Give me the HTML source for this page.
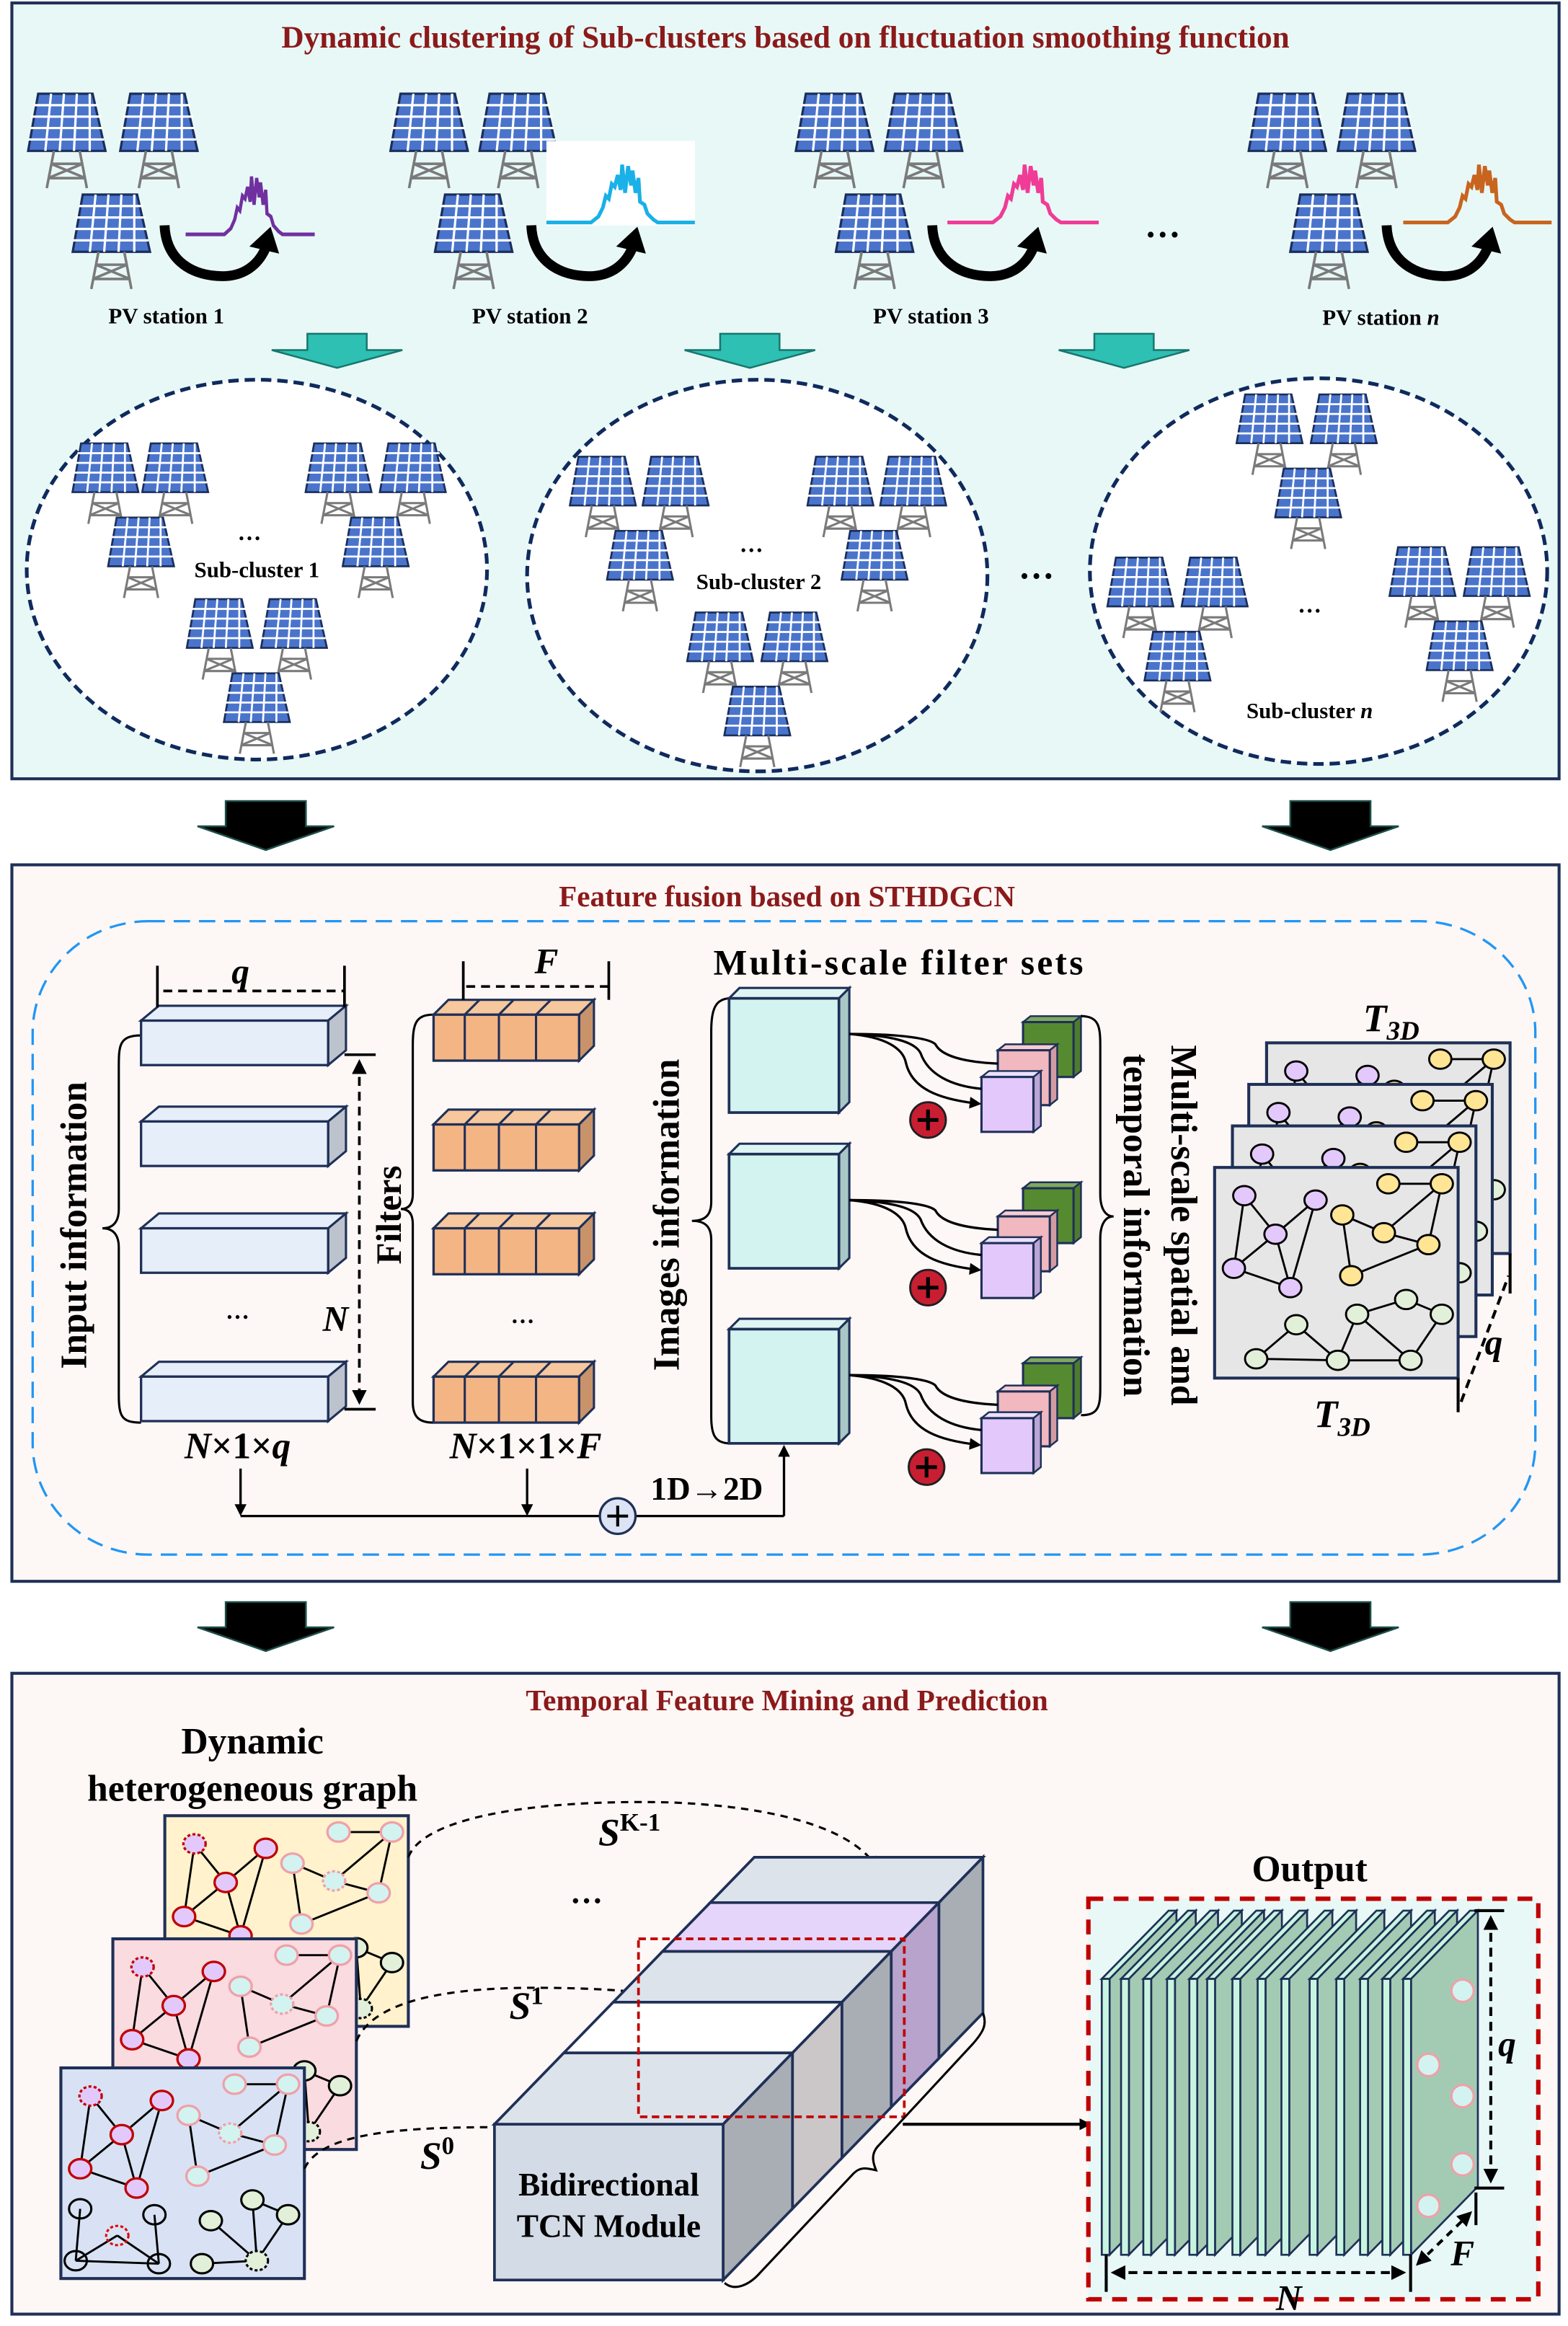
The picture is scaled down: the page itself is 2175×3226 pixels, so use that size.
<!DOCTYPE html>
<html><head><meta charset="utf-8"><style>
html,body{margin:0;padding:0;background:#fff}
svg{display:block}
text{font-family:"Liberation Serif",serif;font-weight:bold;fill:#000}
</style></head><body>
<svg width="2175" height="3226" viewBox="0 0 1056 1568" preserveAspectRatio="none" xmlns="http://www.w3.org/2000/svg" xmlns:xlink="http://www.w3.org/1999/xlink">
<defs>
<symbol id="pv" viewBox="0 0 56 68">
<polygon points="8,1 46,1 55,41 1,41" fill="#4a74cc" stroke="#1a2e5a" stroke-width="1.6"/>
<g stroke="#fff" stroke-width="1.6">
<line x1="5" y1="9" x2="50" y2="9"/><line x1="3" y1="17" x2="52" y2="17"/><line x1="2" y1="25" x2="53" y2="25"/><line x1="1" y1="33" x2="54" y2="33"/>
<line x1="17" y1="1" x2="13" y2="41"/><line x1="26" y1="1" x2="23" y2="41"/><line x1="35" y1="1" x2="33" y2="41"/><line x1="44" y1="1" x2="44" y2="41"/>
</g>
<g stroke="#7a7a7a" stroke-width="1.8" fill="none">
<line x1="19" y1="41" x2="14" y2="67"/><line x1="37" y1="41" x2="42" y2="67"/>
<line x1="17" y1="50" x2="39" y2="50"/><line x1="15" y1="60" x2="41" y2="60"/>
<line x1="17" y1="50" x2="41" y2="60"/><line x1="39" y1="50" x2="15" y2="60"/>
</g>
</symbol>
<symbol id="wave" viewBox="0 0 100 45" preserveAspectRatio="none">
<path d="M0,42 H30 L35,38 38,32 40,24 42,26 44,16 46,18 48,10 50,20 51,3 53,22 55,4 57,17 58,7 60,22 62,12 63,28 66,30 68,36 72,40 75,42 H100" fill="none" stroke="currentColor" stroke-width="2.5"/>
</symbol>
<symbol id="carr" viewBox="0 0 85 42">
<path d="M4,2 C5,28 25,38 45,38 C60,38 70,30 75,19" stroke="#000" stroke-width="7" fill="none"/>
<polygon points="64,17 79,3 85,22" fill="#000"/>
</symbol>
<marker id="ah" markerWidth="8" markerHeight="8" refX="6" refY="4" orient="auto" markerUnits="userSpaceOnUse"><path d="M0,0 L8,4 L0,8 z" fill="#000"/></marker>
<marker id="ah2" markerWidth="10" markerHeight="10" refX="8" refY="5" orient="auto-start-reverse" markerUnits="userSpaceOnUse"><path d="M0,0 L10,5 L0,10 z" fill="#000"/></marker>
<g id="tg" stroke="#000" stroke-width="1.4">
<g>
<line x1="20" y1="19" x2="41" y2="45"/><line x1="68" y1="22" x2="41" y2="45"/><line x1="20" y1="19" x2="13" y2="68"/><line x1="41" y1="45" x2="13" y2="68"/><line x1="13" y1="68" x2="51" y2="81"/><line x1="68" y1="22" x2="51" y2="81"/><line x1="41" y1="45" x2="51" y2="81"/>
<line x1="117" y1="11" x2="153" y2="11"/><line x1="153" y1="11" x2="114" y2="44"/><line x1="86" y1="32" x2="114" y2="44"/><line x1="86" y1="32" x2="92" y2="73"/><line x1="114" y1="44" x2="144" y2="52"/><line x1="153" y1="11" x2="144" y2="52"/><line x1="92" y1="73" x2="144" y2="52"/>
<line x1="55" y1="106" x2="28" y2="129"/><line x1="55" y1="106" x2="83" y2="130"/><line x1="28" y1="129" x2="83" y2="130"/><line x1="96" y1="99" x2="83" y2="130"/><line x1="96" y1="99" x2="129" y2="89"/><line x1="129" y1="89" x2="153" y2="99"/><line x1="153" y1="99" x2="132" y2="130"/><line x1="96" y1="99" x2="132" y2="130"/><line x1="83" y1="130" x2="132" y2="130"/>
</g>
<g fill="#e3c8fb"><ellipse cx="20" cy="19" rx="7.5" ry="6.5"/><ellipse cx="68" cy="22" rx="7.5" ry="6.5"/><ellipse cx="41" cy="45" rx="7.5" ry="6.5"/><ellipse cx="13" cy="68" rx="7.5" ry="6.5"/><ellipse cx="51" cy="81" rx="7.5" ry="6.5"/></g>
<g fill="#ffe594"><ellipse cx="117" cy="11" rx="7.5" ry="6.5"/><ellipse cx="153" cy="11" rx="7.5" ry="6.5"/><ellipse cx="86" cy="32" rx="7.5" ry="6.5"/><ellipse cx="114" cy="44" rx="7.5" ry="6.5"/><ellipse cx="144" cy="52" rx="7.5" ry="6.5"/><ellipse cx="92" cy="73" rx="7.5" ry="6.5"/></g>
<g fill="#e2efd9"><ellipse cx="129" cy="89" rx="7.5" ry="6.5"/><ellipse cx="96" cy="99" rx="7.5" ry="6.5"/><ellipse cx="153" cy="99" rx="7.5" ry="6.5"/><ellipse cx="55" cy="106" rx="7.5" ry="6.5"/><ellipse cx="28" cy="129" rx="7.5" ry="6.5"/><ellipse cx="83" cy="130" rx="7.5" ry="6.5"/><ellipse cx="132" cy="130" rx="7.5" ry="6.5"/></g>
</g>
<g id="hg">
<g stroke="#000" stroke-width="1.4">
<line x1="20" y1="19" x2="41" y2="45"/><line x1="68" y1="22" x2="41" y2="45"/><line x1="20" y1="19" x2="13" y2="68"/><line x1="41" y1="45" x2="13" y2="68"/><line x1="13" y1="68" x2="51" y2="81"/><line x1="68" y1="22" x2="51" y2="81"/><line x1="41" y1="45" x2="51" y2="81"/>
<line x1="117" y1="11" x2="153" y2="11"/><line x1="153" y1="11" x2="114" y2="44"/><line x1="86" y1="32" x2="114" y2="44"/><line x1="86" y1="32" x2="92" y2="73"/><line x1="114" y1="44" x2="144" y2="52"/><line x1="153" y1="11" x2="144" y2="52"/><line x1="92" y1="73" x2="144" y2="52"/>
<line x1="13" y1="95" x2="10" y2="130"/><line x1="10" y1="130" x2="38" y2="113"/><line x1="38" y1="113" x2="66" y2="132"/><line x1="63" y1="99" x2="66" y2="132"/><line x1="10" y1="130" x2="66" y2="132"/>
<line x1="129" y1="89" x2="153" y2="99"/><line x1="129" y1="89" x2="132" y2="130"/><line x1="153" y1="99" x2="132" y2="130"/><line x1="101" y1="103" x2="132" y2="130"/><line x1="95" y1="132" x2="132" y2="130"/>
</g>
<g fill="#e3c8fb" stroke="#c00000" stroke-width="1.6"><ellipse cx="20" cy="19" rx="7.5" ry="6.5" stroke-dasharray="2,1.5"/><ellipse cx="68" cy="22" rx="7.5" ry="6.5"/><ellipse cx="41" cy="45" rx="7.5" ry="6.5"/><ellipse cx="13" cy="68" rx="7.5" ry="6.5"/><ellipse cx="51" cy="81" rx="7.5" ry="6.5"/></g>
<g fill="#d3f3f1" stroke="#f0a0a8" stroke-width="1.6"><ellipse cx="117" cy="11" rx="7.5" ry="6.5"/><ellipse cx="153" cy="11" rx="7.5" ry="6.5"/><ellipse cx="86" cy="32" rx="7.5" ry="6.5"/><ellipse cx="114" cy="44" rx="7.5" ry="6.5" stroke-dasharray="2,1.5"/><ellipse cx="144" cy="52" rx="7.5" ry="6.5"/><ellipse cx="92" cy="73" rx="7.5" ry="6.5"/></g>
<g fill="none" stroke="#000" stroke-width="1.5"><ellipse cx="13" cy="95" rx="7.5" ry="6.5"/><ellipse cx="63" cy="99" rx="7.5" ry="6.5"/><ellipse cx="38" cy="113" rx="7.5" ry="6.5" stroke="#e00000" stroke-dasharray="2,1.5"/><ellipse cx="10" cy="130" rx="7.5" ry="6.5"/><ellipse cx="66" cy="132" rx="7.5" ry="6.5"/></g>
<g fill="#e2efd9" stroke="#000" stroke-width="1.5"><ellipse cx="129" cy="89" rx="7.5" ry="6.5"/><ellipse cx="101" cy="103" rx="7.5" ry="6.5"/><ellipse cx="153" cy="99" rx="7.5" ry="6.5"/><ellipse cx="132" cy="130" rx="7.5" ry="6.5" stroke-dasharray="2,1.5"/><ellipse cx="95" cy="132" rx="7.5" ry="6.5"/></g>
</g>
<g id="cubes">
<polygon points="689,689 694,685 728,685 723,689" fill="#7fa860" stroke="#1f3057" stroke-width="1.2"/><polygon points="723,689 728,685 728,722 723,726" fill="#4e7c2e" stroke="#1f3057" stroke-width="1.2"/><rect x="689" y="689" width="34" height="37" fill="#568a30" stroke="#1f3057" stroke-width="1.5"/>
<polygon points="672,708 677,704 712,704 707,708" fill="#f7cdd2" stroke="#1f3057" stroke-width="1.2"/><polygon points="707,708 712,704 712,741 707,745" fill="#d39ba3" stroke="#1f3057" stroke-width="1.2"/><rect x="672" y="708" width="35" height="37" fill="#f2b8bf" stroke="#1f3057" stroke-width="1.5"/>
<polygon points="661,726 666,722 701,722 696,726" fill="#ece0ff" stroke="#1f3057" stroke-width="1.2"/><polygon points="696,726 701,722 701,759 696,763" fill="#bba6d6" stroke="#1f3057" stroke-width="1.2"/><rect x="661" y="726" width="35" height="37" fill="#e3c8fb" stroke="#1f3057" stroke-width="1.5"/>
<g fill="none" stroke="#000" stroke-width="1.6"><path d="M572,697 C600,697 625,699 630,704 C634,712 650,716 672,717"/><path d="M572,697 C600,698 616,702 620,710 C625,724 640,732 661,734"/><path d="M572,697 C597,699 608,707 610,716 C614,734 632,741 659,744" marker-end="url(#ah)"/></g>
</g>
<g id="cbox"><polygon points="491,673 498,666 572,666 565,673" fill="#dff5f3" stroke="#1f3057" stroke-width="1.5"/><polygon points="565,673 572,666 572,743 565,750" fill="#a9c7c6" stroke="#1f3057" stroke-width="1.5"/><rect x="491" y="673" width="74" height="77" fill="#d3f3f1" stroke="#1f3057" stroke-width="1.8"/></g>
<g id="ibar"><polygon points="95,688 107,678 233,678 221,688" fill="#e6eefa" stroke="#1f3057" stroke-width="1.5"/><polygon points="221,688 233,678 233,708 221,718" fill="#bcc3cd" stroke="#1f3057" stroke-width="1.5"/><rect x="95" y="688" width="126" height="30" fill="#e6eefa" stroke="#1f3057" stroke-width="1.6"/></g>
<g id="obar"><polygon points="292,684 302,674 400,674 390,684" fill="#f7c79d" stroke="#1f3057" stroke-width="1.5"/><polygon points="390,684 400,674 400,705 390,715" fill="#c8936a" stroke="#1f3057" stroke-width="1.5"/><rect x="292" y="684" width="98" height="31" fill="#f4b584" stroke="#1f3057" stroke-width="1.6"/><g stroke="#1f3057" stroke-width="1.5"><line x1="313" y1="684" x2="313" y2="715"/><line x1="336" y1="684" x2="336" y2="715"/><line x1="361" y1="684" x2="361" y2="715"/><line x1="313" y1="684" x2="323" y2="674"/><line x1="336" y1="684" x2="346" y2="674"/><line x1="361" y1="684" x2="371" y2="674"/></g></g>
</defs>

<!-- PANEL 1 -->
<rect x="8" y="2" width="1042" height="523" fill="#e8f8f7" stroke="#1f3057" stroke-width="2"/>
<text x="529" y="32" font-size="21" text-anchor="middle" style="fill:#8b1a1a">Dynamic clustering of Sub-clusters based on fluctuation smoothing function</text>

<use href="#pv" x="18" y="62" width="54" height="66"/><use href="#pv" x="80" y="62" width="54" height="66"/><use href="#pv" x="48" y="130" width="54" height="66"/>
<use href="#wave" x="125" y="116" width="87" height="45" style="color:#7030a0"/><use href="#carr" x="105" y="150" width="85" height="40"/>
<text x="112" y="218" font-size="15" text-anchor="middle">PV station 1</text>

<use href="#pv" x="262" y="62" width="54" height="66"/><use href="#pv" x="322" y="62" width="54" height="66"/><use href="#pv" x="292" y="130" width="54" height="66"/>
<rect x="368" y="95" width="100" height="57" fill="#fff"/>
<use href="#wave" x="368" y="108" width="100" height="45" style="color:#1ab0e8"/><use href="#carr" x="352" y="150" width="85" height="40"/>
<text x="357" y="218" font-size="15" text-anchor="middle">PV station 2</text>

<use href="#pv" x="535" y="62" width="54" height="66"/><use href="#pv" x="595" y="62" width="54" height="66"/><use href="#pv" x="562" y="130" width="54" height="66"/>
<use href="#wave" x="638" y="108" width="102" height="45" style="color:#f03c96"/><use href="#carr" x="622" y="150" width="85" height="40"/>
<text x="627" y="218" font-size="15" text-anchor="middle">PV station 3</text>
<text x="783" y="160" font-size="24" text-anchor="middle">…</text>

<use href="#pv" x="840" y="62" width="54" height="66"/><use href="#pv" x="900" y="62" width="54" height="66"/><use href="#pv" x="868" y="130" width="54" height="66"/>
<use href="#wave" x="945" y="108" width="100" height="45" style="color:#c8641e"/><use href="#carr" x="928" y="150" width="85" height="40"/>
<text x="930" y="219" font-size="15" text-anchor="middle">PV station <tspan font-style="italic">n</tspan></text>

<g fill="#2ec0b2" stroke="#17766d" stroke-width="1.2">
<polygon points="207,225 247,225 247,236 271,236 227,248 183,236 207,236"/>
<polygon points="485,225 525,225 525,236 549,236 505,248 461,236 485,236"/>
<polygon points="737,225 777,225 777,236 801,236 757,248 713,236 737,236"/>
</g>

<g fill="#fff" stroke="#0f2a5c" stroke-width="2.5" stroke-dasharray="7,4">
<ellipse cx="173" cy="384" rx="155" ry="128"/><ellipse cx="510" cy="388" rx="155" ry="132"/><ellipse cx="888" cy="385" rx="154" ry="130"/>
</g>
<g>
<use href="#pv" x="48" y="298" width="46" height="56"/><use href="#pv" x="95" y="298" width="46" height="56"/><use href="#pv" x="72" y="348" width="46" height="56"/>
<use href="#pv" x="205" y="298" width="46" height="56"/><use href="#pv" x="255" y="298" width="46" height="56"/><use href="#pv" x="230" y="348" width="46" height="56"/>
<use href="#pv" x="125" y="403" width="46" height="56"/><use href="#pv" x="175" y="403" width="46" height="56"/><use href="#pv" x="150" y="453" width="46" height="56"/>
<use href="#pv" x="383" y="307" width="46" height="56"/><use href="#pv" x="432" y="307" width="46" height="56"/><use href="#pv" x="408" y="357" width="46" height="56"/>
<use href="#pv" x="543" y="307" width="46" height="56"/><use href="#pv" x="592" y="307" width="46" height="56"/><use href="#pv" x="566" y="357" width="46" height="56"/>
<use href="#pv" x="462" y="412" width="46" height="56"/><use href="#pv" x="512" y="412" width="46" height="56"/><use href="#pv" x="487" y="462" width="46" height="56"/>
<use href="#pv" x="832" y="265" width="46" height="56"/><use href="#pv" x="882" y="265" width="46" height="56"/><use href="#pv" x="858" y="315" width="46" height="56"/>
<use href="#pv" x="745" y="375" width="46" height="56"/><use href="#pv" x="795" y="375" width="46" height="56"/><use href="#pv" x="770" y="425" width="46" height="56"/>
<use href="#pv" x="935" y="368" width="46" height="56"/><use href="#pv" x="985" y="368" width="46" height="56"/><use href="#pv" x="960" y="418" width="46" height="56"/>
</g>
<text x="168" y="364" font-size="16" text-anchor="middle">…</text>
<text x="173" y="389" font-size="15" text-anchor="middle">Sub-cluster 1</text>
<text x="506" y="372" font-size="16" text-anchor="middle">…</text>
<text x="511" y="397" font-size="15" text-anchor="middle">Sub-cluster 2</text>
<text x="882" y="413" font-size="16" text-anchor="middle">…</text>
<text x="882" y="484" font-size="15" text-anchor="middle">Sub-cluster <tspan font-style="italic">n</tspan></text>
<text x="698" y="390" font-size="24" text-anchor="middle">…</text>

<g fill="#000" stroke="#1b4d48" stroke-width="1.2">
<polygon points="152,540 206,540 206,557 225,557 179,573 133,557 152,557"/>
<polygon points="869,540 923,540 923,557 942,557 896,573 850,557 869,557"/>
<polygon points="152,1080 206,1080 206,1097 225,1097 179,1113 133,1097 152,1097"/>
<polygon points="869,1080 923,1080 923,1097 942,1097 896,1113 850,1097 869,1097"/>
</g>

<!-- PANEL 2 -->
<rect x="8" y="583" width="1042" height="483" fill="#fdf7f6" stroke="#1f3057" stroke-width="2"/>
<text x="530" y="611" font-size="20" text-anchor="middle" style="fill:#8b1a1a">Feature fusion based on STHDGCN</text>
<rect x="22" y="621" width="1012" height="427" rx="78" ry="75" fill="none" stroke="#2196f3" stroke-width="1.6" stroke-dasharray="11,6"/>

<text transform="translate(58,826) rotate(-90)" font-size="25" text-anchor="middle">Input information</text>
<path d="M95,698 C80,698 80,705 80,720 L80,815 C80,825 75,828 69,828 C75,828 80,831 80,841 L80,940 C80,955 82,959 95,959" fill="none" stroke="#000" stroke-width="1.5"/>
<use href="#ibar"/><use href="#ibar" y="68"/><use href="#ibar" y="140"/><use href="#ibar" y="240"/>
<text x="160" y="889" font-size="16" text-anchor="middle">…</text>
<g stroke="#000" stroke-width="1.8"><line x1="106" y1="651" x2="106" y2="679"/><line x1="232" y1="651" x2="232" y2="679"/><line x1="110" y1="668" x2="232" y2="668" stroke-dasharray="6,4"/>
<line x1="232" y1="711" x2="253" y2="711"/><line x1="232" y1="950" x2="253" y2="950"/><line x1="242" y1="716" x2="242" y2="945" stroke-dasharray="6,4" marker-start="url(#ah2)" marker-end="url(#ah2)"/></g>
<text x="162" y="663" font-size="24" font-style="italic" text-anchor="middle">q</text>
<text x="226" y="897" font-size="24" font-style="italic" text-anchor="middle">N</text>
<text transform="translate(270,819) rotate(-90)" font-size="24" text-anchor="middle">Filters</text>
<path d="M292,684 C280,684 278,690 278,705 L278,805 C278,812 275,815 270,815 C275,815 278,818 278,825 L278,945 C278,955 282,959 292,959" fill="none" stroke="#000" stroke-width="1.5"/>
<use href="#obar"/><use href="#obar" y="74"/><use href="#obar" y="144"/><use href="#obar" y="244"/>
<text x="352" y="892" font-size="16" text-anchor="middle">…</text>
<g stroke="#000" stroke-width="1.8"><line x1="312" y1="648" x2="312" y2="674"/><line x1="410" y1="648" x2="410" y2="674"/><line x1="314" y1="665" x2="410" y2="665" stroke-dasharray="6,4"/></g>
<text x="368" y="656" font-size="24" font-style="italic" text-anchor="middle">F</text>
<text x="160" y="983" font-size="25" text-anchor="middle"><tspan font-style="italic">N</tspan>×1×<tspan font-style="italic">q</tspan></text>
<text x="354" y="983" font-size="25" text-anchor="middle"><tspan font-style="italic">N</tspan>×1×1×<tspan font-style="italic">F</tspan></text>
<g stroke="#000" stroke-width="1.6" fill="none">
<line x1="162" y1="990" x2="162" y2="1020" marker-end="url(#ah)"/><line x1="355" y1="990" x2="355" y2="1020" marker-end="url(#ah)"/>
<line x1="162" y1="1022" x2="404" y2="1022"/><line x1="428" y1="1022" x2="528" y2="1022"/><line x1="528" y1="1022" x2="528" y2="976" marker-end="url(#ah)"/>
</g>
<circle cx="416" cy="1022" r="12" fill="#dce3f5" stroke="#1f3057" stroke-width="1.6"/>
<path d="M409,1022 H423 M416,1015 V1029" stroke="#000" stroke-width="2"/>
<text x="476" y="1011" font-size="22" text-anchor="middle">1D→2D</text>

<text x="605" y="657" font-size="24" text-anchor="middle" textLength="249">Multi-scale filter sets</text>
<text transform="translate(457,819) rotate(-90)" font-size="25" text-anchor="middle">Images information</text>
<path d="M492,673 C482,673 479,680 479,695 L479,810 C479,818 476,823 466,823 C476,823 479,828 479,836 L479,955 C479,968 482,973 492,973" fill="none" stroke="#000" stroke-width="1.5"/>
<use href="#cbox"/><use href="#cbox" y="105"/><use href="#cbox" y="223"/>
<use href="#cubes"/><use href="#cubes" y="112"/><use href="#cubes" y="230"/>
<g fill="#c81e32" stroke="#1f1f1f" stroke-width="1.4"><circle cx="625" cy="755" r="12"/><circle cx="625" cy="868" r="12"/><circle cx="624" cy="989" r="12"/></g>
<g stroke="#000" stroke-width="2.5"><path d="M618,755 H632 M625,748 V762 M618,868 H632 M625,861 V875 M617,989 H631 M624,982 V996"/></g>
<path d="M728,685 C740,685 741,692 741,705 L741,805 C741,814 744,820 750,820 C744,820 741,826 741,835 L741,935 C741,948 740,954 728,954" fill="none" stroke="#000" stroke-width="1.5"/>
<text transform="translate(789,826) rotate(90)" font-size="25" text-anchor="middle">Multi-scale spatial and</text>
<text transform="translate(757,826) rotate(90)" font-size="25" text-anchor="middle">temporal information</text>

<g>
<g transform="translate(853,703)"><rect width="164" height="142" fill="#e6e6e6" stroke="#1f3057" stroke-width="2"/><use href="#tg"/></g>
<g transform="translate(841,731)"><rect width="164" height="142" fill="#e6e6e6" stroke="#1f3057" stroke-width="2"/><use href="#tg"/></g>
<g transform="translate(830,759)"><rect width="164" height="142" fill="#e6e6e6" stroke="#1f3057" stroke-width="2"/><use href="#tg"/></g>
<g transform="translate(818,787)"><rect width="164" height="142" fill="#e6e6e6" stroke="#1f3057" stroke-width="2"/><use href="#tg"/></g>
</g>
<text x="918" y="695" font-size="26" font-style="italic">T<tspan font-size="18" dy="6">3D</tspan></text>
<text x="885" y="962" font-size="26" font-style="italic">T<tspan font-size="18" dy="6">3D</tspan></text>
<g stroke="#000" stroke-width="2"><line x1="982" y1="929" x2="982" y2="952"/><line x1="1017" y1="845" x2="1017" y2="872"/><line x1="984" y1="945" x2="1016" y2="860" stroke-dasharray="6,4"/></g>
<text x="1006" y="913" font-size="24" font-style="italic" text-anchor="middle">q</text>

<!-- PANEL 3 -->
<rect x="8" y="1128" width="1042" height="432" fill="#fdf7f6" stroke="#1f3057" stroke-width="2"/>
<text x="530" y="1153" font-size="20" text-anchor="middle" style="fill:#8b1a1a">Temporal Feature Mining and Prediction</text>
<text x="170" y="1182" font-size="25" text-anchor="middle">Dynamic</text>
<text x="170" y="1214" font-size="25" text-anchor="middle">heterogeneous graph</text>

<g transform="translate(111,1224)"><rect width="164" height="142" fill="#fff2cc" stroke="#1f3057" stroke-width="2"/><use href="#hg"/></g>
<g transform="translate(76,1307)"><rect width="164" height="142" fill="#f9dbe0" stroke="#1f3057" stroke-width="2"/><use href="#hg"/></g>
<g transform="translate(41,1394)"><rect width="164" height="142" fill="#d8e2f4" stroke="#1f3057" stroke-width="2"/><use href="#hg"/></g>

<g fill="none" stroke="#000" stroke-width="1.5" stroke-dasharray="5,4">
<path d="M275,1252 C285,1225 360,1213 450,1215 C530,1218 575,1235 590,1258" marker-end="url(#ah)"/>
<path d="M240,1376 C250,1352 290,1340 360,1340 C420,1340 460,1345 486,1354" marker-end="url(#ah)"/>
<path d="M205,1462 C215,1440 260,1434 330,1434 C400,1434 440,1438 458,1446" marker-end="url(#ah)"/>
</g>
<text x="403" y="1244" font-size="26" font-style="italic">S<tspan font-size="17" dy="-10" font-style="normal">K-1</tspan></text>
<text x="395" y="1283" font-size="22" text-anchor="middle">…</text>
<text x="343" y="1361" font-size="26" font-style="italic">S<tspan font-size="17" dy="-10" font-style="normal">1</tspan></text>
<text x="283" y="1462" font-size="26" font-style="italic">S<tspan font-size="17" dy="-10" font-style="normal">0</tspan></text>

<g stroke="#1f3057" stroke-width="1.8">
<polygon points="478.3,1282.6 632.3,1282.6 662,1252 508,1252" fill="#dde3ea"/><polygon points="632.3,1282.6 632.3,1387.6 662,1357 662,1252" fill="#a9aeb5"/>
<polygon points="446.2,1315.5 600.2,1315.5 632.3,1282.6 478.3,1282.6" fill="#e6d5fb"/><polygon points="600.2,1315.5 600.2,1420.5 632.3,1387.6 632.3,1282.6" fill="#b7a3cb"/>
<polygon points="413,1349.7 567,1349.7 600.2,1315.5 446.2,1315.5" fill="#dde3ea"/><polygon points="567,1349.7 567,1454.7 600.2,1420.5 600.2,1315.5" fill="#a9aeb5"/>
<polygon points="379.7,1383.9 533.7,1383.9 567,1349.7 413,1349.7" fill="#fff"/><polygon points="533.7,1383.9 533.7,1488.9 567,1454.7 567,1349.7" fill="#cbc7c8"/>
<polygon points="333,1432 487,1432 533.7,1383.9 379.7,1383.9" fill="#dde3ea"/><polygon points="487,1432 487,1537 533.7,1488.9 533.7,1383.9" fill="#a9aeb5"/>
<rect x="333" y="1432" width="154" height="105" fill="#d3dbe6"/>
</g>
<rect x="430" y="1307" width="179" height="120" fill="none" stroke="#c00000" stroke-width="1.8" stroke-dasharray="5,3"/>
<text x="410" y="1480" font-size="22" text-anchor="middle">Bidirectional</text>
<text x="410" y="1508" font-size="22" text-anchor="middle">TCN Module</text>
<path d="M488,1539 C495,1545 505,1540 512,1532 L575,1465 C580,1460 585,1462 590,1463 C588,1458 586,1452 592,1446 L655,1378 C662,1370 665,1365 662,1357" fill="none" stroke="#000" stroke-width="1.5"/>
<line x1="608" y1="1432" x2="733" y2="1432" stroke="#000" stroke-width="2" marker-end="url(#ah)"/>

<text x="882" y="1268" font-size="25" text-anchor="middle">Output</text>
<rect x="733" y="1280" width="303" height="270" fill="#e8f8f7" stroke="#c00000" stroke-width="3" stroke-dasharray="10,7"/>
<g stroke="#1f3057" stroke-width="1.3">
<g id="pl"><polygon points="742,1334 747.3,1334 792.3,1288 787,1288" fill="#c8f5df"/><polygon points="747.3,1334 792.3,1288 792.3,1474 747.3,1520" fill="#a3cbb3"/><rect x="742" y="1334" width="5.3" height="186" fill="#c8f5df"/></g>
<use href="#pl" x="13"/><use href="#pl" x="28"/><use href="#pl" x="44"/><use href="#pl" x="59"/><use href="#pl" x="71"/><use href="#pl" x="88"/><use href="#pl" x="105"/><use href="#pl" x="121"/><use href="#pl" x="140"/><use href="#pl" x="158"/><use href="#pl" x="174"/><use href="#pl" x="189"/><use href="#pl" x="203"/>
</g>
<g fill="#d3f3f1" stroke="#f0a0a8" stroke-width="1.5"><circle cx="985" cy="1342" r="7.5"/><circle cx="962" cy="1392" r="7.5"/><circle cx="985" cy="1413" r="7.5"/><circle cx="985" cy="1459" r="7.5"/><circle cx="962" cy="1487" r="7.5"/></g>
<g stroke="#000" stroke-width="2">
<line x1="993" y1="1288" x2="1013" y2="1288"/><line x1="993" y1="1475" x2="1013" y2="1475"/>
<line x1="1004" y1="1293" x2="1004" y2="1470" stroke-dasharray="6,4" marker-start="url(#ah2)" marker-end="url(#ah2)"/>
<line x1="745" y1="1520" x2="745" y2="1545"/><line x1="950" y1="1520" x2="950" y2="1545"/>
<line x1="750" y1="1532" x2="945" y2="1532" stroke-dasharray="6,4" marker-start="url(#ah2)" marker-end="url(#ah2)"/>
<line x1="994" y1="1478" x2="994" y2="1500"/>
<line x1="955" y1="1526" x2="990" y2="1492" stroke-dasharray="5,4" marker-start="url(#ah2)" marker-end="url(#ah2)"/>
</g>
<text x="1015" y="1386" font-size="24" font-style="italic" text-anchor="middle">q</text>
<text x="985" y="1527" font-size="24" font-style="italic" text-anchor="middle">F</text>
<text x="868" y="1557" font-size="24" font-style="italic" text-anchor="middle">N</text>
</svg>
</body></html>
